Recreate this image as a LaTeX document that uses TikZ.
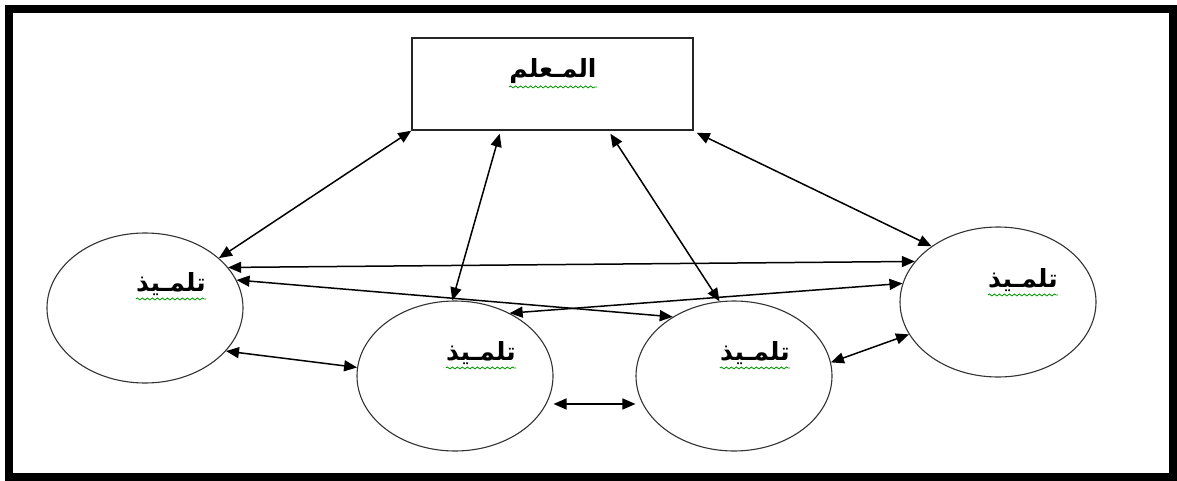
\documentclass[tikz,border=0pt]{standalone}
\usepackage{fontspec}
\newfontfamily\arabicfont[Script=Arabic]{DejaVu Sans}
\TeXXeTstate=1
\usetikzlibrary{shapes.geometric,arrows.meta,decorations.pathmorphing,calc}
\begin{document}
\begin{tikzpicture}[x=0.5pt,y=-0.5pt,
 pupil/.style={ellipse,draw=black!80,line width=0.55pt,minimum width=98pt,minimum height=75pt,inner sep=0pt},
 teacher/.style={draw=black!85,line width=0.75pt,minimum width=140.5pt,minimum height=46pt,inner sep=0pt},
 lbl/.style={font=\arabicfont\bfseries\fontsize{12.5}{14}\selectfont,inner sep=0pt},
 link/.style={{Triangle[length=6.5pt,width=5.5pt]}-{Triangle[length=6.5pt,width=5.5pt]},line width=0.75pt},
 wavy/.style={decorate,decoration={snake,amplitude=0.5pt,segment length=2.5pt},draw=green!60!black,line width=0.4pt}]
\useasboundingbox (0,0) rectangle (1177,481);
\draw[line width=4pt] (9,9) rectangle (1172.5,477);
\node[teacher] (T) at (552.5,84) {};
\node[pupil] (L) at (145,308) {};
\node[pupil] (ML) at (455,376) {};
\node[pupil] (MR) at (734,376) {};
\node[pupil] (R) at (998,302) {};
\node[lbl] (tT) at (553,71) {\beginR المـعلم\endR};
\node[lbl] (tL) at (171,284) {\beginR تلمـيذ\endR};
\node[lbl] (tML) at (481,353) {\beginR تلمـيذ\endR};
\node[lbl] (tMR) at (755,353) {\beginR تلمـيذ\endR};
\node[lbl] (tR) at (1023,280) {\beginR تلمـيذ\endR};
\foreach \t in {tT,tL,tML,tMR,tR}
  \draw[wavy] ([yshift=-1.5pt]\t.south west) -- ([yshift=-1.5pt]\t.south east);
\draw[link] (T.south west) -- (L.34);
\draw[link] ($(T.south west)!0.313!(T.south east)+(0,3)$) -- (ML.92);
\draw[link] ($(T.south west)!0.705!(T.south east)+(0,3)$) -- (MR.101);
\draw[link] ($(T.south east)+(3,2)$) -- (R.140);
\draw[link] (L.26) -- (R.154);
\draw[link] (L.17) -- (MR.136);
\draw[link] (ML.49) -- (R.169);
\draw[link] (L.-28) -- (ML.175);
\draw[link,shorten <=3.5pt,shorten >=3.5pt] (ML.-17) -- (MR.197);
\draw[link] (MR.8) -- (R.200);
\end{tikzpicture}
\end{document}
